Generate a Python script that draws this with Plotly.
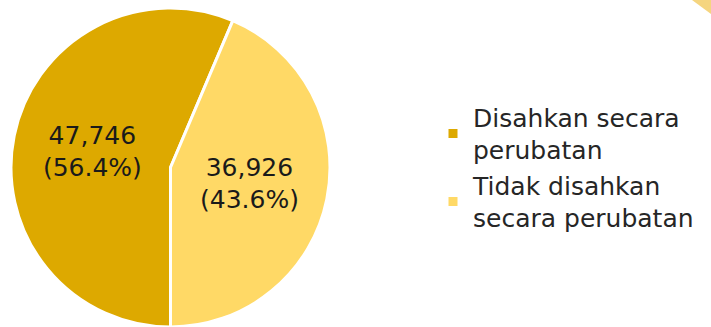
import plotly.graph_objects as go

labels = ["Disahkan secara<br>perubatan", "Tidak disahkan<br>secara perubatan"]
values = [47746, 36926]
text_labels = ["47,746<br>(56.4%)", "36,926<br>(43.6%)"]
colors = ["#DDA900", "#FFD966"]

W, H = 711, 327
cx, cy = 170.5, 167.5
rx, ry = 161.5, 159.5

fig = go.Figure(go.Pie(
    labels=labels,
    values=values,
    text=text_labels,
    textinfo="text",
    textposition="inside",
    insidetextorientation="horizontal",
    sort=False,
    direction="clockwise",
    rotation=180,
    marker=dict(colors=colors, line=dict(color="white", width=3)),
    textfont=dict(family="DejaVu Sans", size=25, color="#1a1a1a"),
    domain=dict(x=[(cx - rx) / W, (cx + rx) / W],
                y=[max(0, (H - cy - ry) / H), min(1, (H - cy + ry) / H)]),
    hoverinfo="label+value+percent",
))

fig.update_layout(
    width=W, height=H,
    margin=dict(l=0, r=0, t=0, b=0),
    paper_bgcolor="white",
    plot_bgcolor="white",
    showlegend=True,
    legend=dict(
        x=433 / W, y=0.488, xanchor="left", yanchor="middle",
        font=dict(family="DejaVu Sans", size=25, color="#262626"),
        bgcolor="rgba(0,0,0,0)",
    ),
    shapes=[dict(
        type="path", xref="paper", yref="paper",
        path=f"M {692/W} 1 L 1 1 L 1 {1 - 14/H} Z",
        fillcolor="#F5D57F", line=dict(width=0),
    )],
)

fig.write_html("out.html", config={"displayModeBar": False},
               post_script="document.body.style.margin='0px';")
